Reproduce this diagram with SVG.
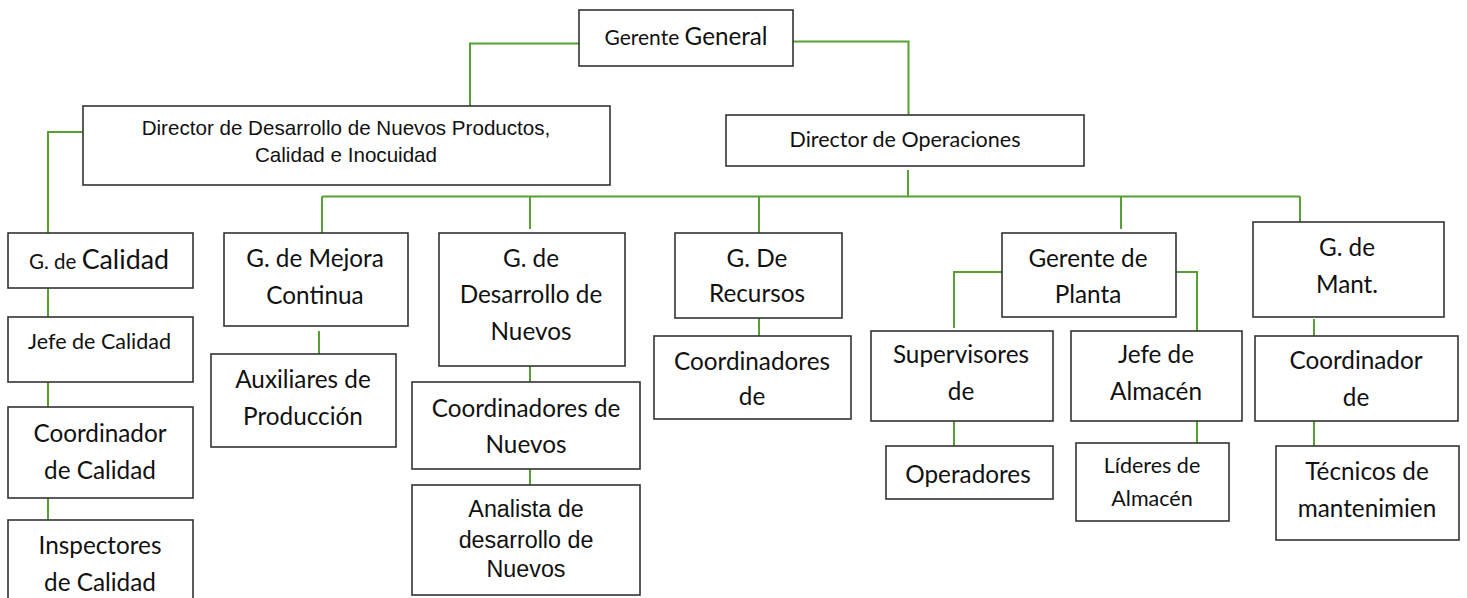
<svg xmlns="http://www.w3.org/2000/svg" width="1467" height="598" viewBox="0 0 1467 598">
<style>
rect{fill:#fff;stroke:#333;stroke-width:1.6}
.cn path{fill:none;stroke:#58a032;stroke-width:2}
text{fill:#111;text-anchor:middle}
.c{font-family:Lato,"Liberation Sans",sans-serif;font-size:24.3px}
.cs{font-family:Lato,"Liberation Sans",sans-serif;font-size:21.5px}
.a{font-family:"Liberation Sans",Arial,sans-serif}
</style>
<rect x="0" y="0" width="1467" height="598" style="fill:#fff;stroke:none"/>
<g class="cn" id="connectors">
<path d="M579,43.5H470V106"/>
<path d="M793,41.5H908.5V115"/>
<path d="M908,170V196.5"/>
<path d="M322,196.5H1300"/>
<path d="M322,196.5V241"/>
<path d="M530,196.5V229"/>
<path d="M759,196.5V233"/>
<path d="M1121,196.5V229"/>
<path d="M1300,196.5V229"/>
<path d="M83,132H48V233"/>
<path d="M48,288V317"/>
<path d="M48,382V407"/>
<path d="M48,498V521"/>
<path d="M319,331V354"/>
<path d="M530,366V382"/>
<path d="M530,469V485"/>
<path d="M759,318V336"/>
<path d="M1002,272H954V328"/>
<path d="M1176,272H1197V333"/>
<path d="M954,418V446"/>
<path d="M1197,421V445"/>
<path d="M1314,319V336"/>
<path d="M1314,421V447"/>
</g>
<g id="gerente"><rect x="579" y="10" width="214" height="56"/><text class="c" x="686" y="45"><tspan style="font-size:21px">Gerente </tspan><tspan style="font-size:24.2px">General</tspan></text></g>
<g id="dir-desarrollo"><rect x="83" y="106" width="527" height="79"/><text class="a" style="font-size:20.6px" x="346" y="135">Director de Desarrollo de Nuevos Productos,</text><text class="a" style="font-size:20.6px" x="346" y="162">Calidad e Inocuidad</text></g>
<g id="dir-operaciones"><rect x="726" y="115" width="358" height="51"/><text class="cs" x="905" y="147">Director de Operaciones</text></g>
<g id="g-calidad"><rect x="8" y="233" width="185" height="55"/><text class="c" x="99" y="269"><tspan style="font-size:20.5px">G. de </tspan><tspan style="font-size:26.8px">Calidad</tspan></text></g>
<g id="jefe-calidad"><rect x="8" y="317" width="185" height="65"/><text class="cs" x="99.5" y="349">Jefe de Calidad</text></g>
<g id="coord-calidad"><rect x="8" y="407" width="185" height="91"/><text class="c" x="100" y="442">Coordinador</text><text class="c" x="100" y="479">de Calidad</text></g>
<g id="inspectores"><rect x="8" y="520" width="185" height="90"/><text class="c" x="100" y="554">Inspectores</text><text class="c" x="100" y="591">de Calidad</text></g>
<g id="g-mejora"><rect x="224" y="233" width="184" height="93"/><text class="c" x="315" y="267">G. de Mejora</text><text class="c" x="315" y="304">Continua</text></g>
<g id="auxiliares"><rect x="211" y="354" width="185" height="93"/><text class="c" x="303" y="388">Auxiliares de</text><text class="c" x="303" y="425">Producción</text></g>
<g id="g-desarrollo"><rect x="439" y="233" width="186" height="133"/><text class="c" x="531" y="267">G. de</text><text class="c" x="531" y="303">Desarrollo de</text><text class="c" x="531" y="340">Nuevos</text></g>
<g id="coord-nuevos"><rect x="412" y="382" width="228" height="87"/><text class="c" x="526" y="417">Coordinadores de</text><text class="c" x="526" y="453">Nuevos</text></g>
<g id="analista"><rect x="412" y="485" width="228" height="110"/><text class="a" style="font-size:23.3px" x="526" y="517">Analista de</text><text class="a" style="font-size:23.3px" x="526" y="548">desarrollo de</text><text class="a" style="font-size:23.3px" x="526" y="577">Nuevos</text></g>
<g id="g-recursos"><rect x="675" y="233" width="167" height="85"/><text class="c" x="757" y="267">G. De</text><text class="c" x="757" y="302">Recursos</text></g>
<g id="coord-recursos"><rect x="654" y="336" width="197" height="83"/><text class="c" x="752" y="370">Coordinadores</text><text class="c" x="752" y="405">de</text></g>
<g id="g-planta"><rect x="1002" y="233" width="174" height="84"/><text class="c" x="1088" y="267">Gerente de</text><text class="c" x="1088" y="303">Planta</text></g>
<g id="supervisores"><rect x="871" y="331" width="182" height="90"/><text class="c" x="961" y="363">Supervisores</text><text class="c" x="961" y="400">de</text></g>
<g id="operadores"><rect x="886" y="446" width="167" height="53"/><text class="c" x="968" y="483">Operadores</text></g>
<g id="jefe-almacen"><rect x="1071" y="331" width="171" height="90"/><text class="c" x="1156" y="363">Jefe de</text><text class="c" x="1156" y="400">Almacén</text></g>
<g id="lideres"><rect x="1076" y="443" width="153" height="78"/><text class="cs" x="1152" y="473">Líderes de</text><text class="cs" x="1152" y="506">Almacén</text></g>
<g id="g-mant"><rect x="1253" y="222" width="191" height="95"/><text class="c" x="1347" y="256">G. de</text><text class="c" x="1347" y="293">Mant.</text></g>
<g id="coord-mant"><rect x="1255" y="336" width="203" height="85"/><text class="c" x="1356" y="369">Coordinador</text><text class="c" x="1356" y="406">de</text></g>
<g id="tecnicos"><rect x="1276" y="446" width="183" height="94"/><text class="c" x="1367" y="480">Técnicos de</text><text class="c" x="1367" y="517">mantenimien</text></g>
</svg>
